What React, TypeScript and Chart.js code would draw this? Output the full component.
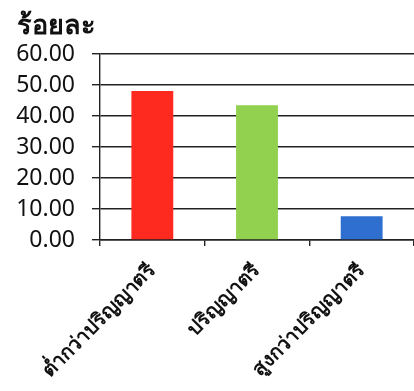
import React, { useEffect, useRef } from "react";
import { Chart, registerables } from "chart.js";

Chart.register(...registerables);

const categories = ["ต่ำกว่าปริญญาตรี", "ปริญญาตรี", "สูงกว่าปริญญาตรี"];
const values = [48.1, 43.5, 7.7];
const barColors = ["#FF2A1F", "#92D050", "#2F6FD0"];
const yTitle = "ร้อยละ";
const yMin = 0;
const yMax = 60;
const yStep = 10;

const FONT = "'Noto Sans', 'Open Sans', sans-serif";

const titlePlugin = {
  id: "topLeftTitle",
  afterDraw(chart: any) {
    const ctx = chart.ctx;
    ctx.save();
    ctx.font = `bold 27px ${FONT}`;
    ctx.fillStyle = "#111";
    ctx.textAlign = "left";
    ctx.textBaseline = "alphabetic";
    ctx.fillText(yTitle, 17, 34);
    ctx.restore();
  },
};

export default function App() {
  const ref = useRef<HTMLCanvasElement | null>(null);
  useEffect(() => {
    document.body.style.margin = "0";
    const chart = new Chart(ref.current as HTMLCanvasElement, {
      type: "bar",
      data: {
        labels: categories,
        datasets: [
          {
            data: values,
            backgroundColor: barColors,
            borderWidth: 0,
            categoryPercentage: 1,
            barPercentage: 0.4,
          },
        ],
      },
      plugins: [titlePlugin],
      options: {
        responsive: false,
        animation: false,
        layout: { padding: { top: 54, right: 0, bottom: 0, left: 0 } },
        plugins: { legend: { display: false }, tooltip: { enabled: false }, title: { display: false } },
        scales: {
          x: {
            offset: true,
            grid: {
              offset: true,
              drawOnChartArea: false,
              drawTicks: true,
              tickLength: 6,
              color: "#222",
              lineWidth: 1.4,
            },
            border: { display: true, color: "#222", width: 1.4 },
            ticks: {
              minRotation: 45,
              maxRotation: 45,
              padding: 13,
              color: "#111",
              font: { family: FONT, size: 20, weight: 600 },
            },
            afterFit(s: any) {
              s.height = 151;
              s.paddingLeft = 0;
              s.paddingRight = 0;
            },
          },
          y: {
            min: yMin,
            max: yMax,
            ticks: {
              stepSize: yStep,
              padding: 17,
              color: "#111",
              font: { family: FONT, size: 23 },
              callback: (v: any) => Number(v).toFixed(2),
            },
            grid: { color: "#222", lineWidth: 1.4, tickLength: 8 },
            border: { display: true, color: "#222", width: 1.4 },
            afterFit(s: any) {
              s.width = 100;
            },
          },
        },
      },
    });
    return () => chart.destroy();
  }, []);
  return (
    <canvas
      ref={ref}
      width={414}
      height={391}
      style={{ display: "block", position: "absolute", left: 0, top: 0 }}
    />
  );
}
